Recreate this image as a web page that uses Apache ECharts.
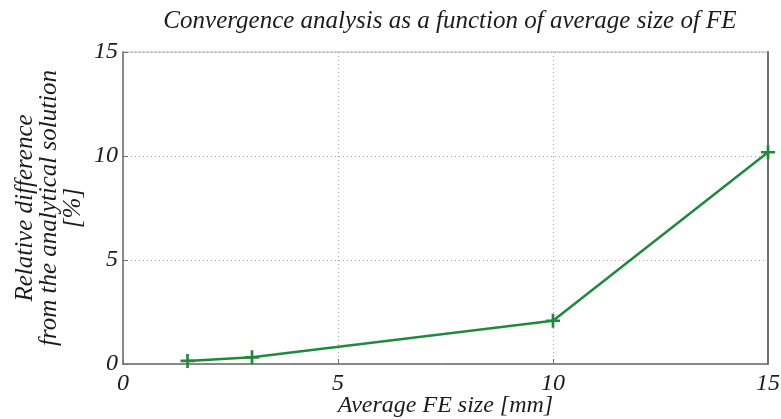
<!DOCTYPE html>
<html>
<head>
<meta charset="utf-8">
<script src="https://cdn.jsdelivr.net/npm/echarts@6/dist/echarts.min.js"></script>
<style>
  html, body { margin: 0; padding: 0; background: #fff; }
  #chart { width: 781px; height: 419px; }
</style>
</head>
<body>
<div id="chart"></div>
<script>
// Average finite element size [mm] and relative error [%]
const feSize = [1.5, 3, 10, 15];
const relDiff = [0.15, 0.32, 2.08, 10.18];
const xTicks = [0, 5, 10, 15];
const yTicks = [0, 5, 10, 15];

const serif = '"Liberation Serif", "DejaVu Serif", serif';
const green = '#1f8a3c';
const textCol = '#1c1c1c';
const axisCol = '#707070';

const tickLabel = { fontFamily: serif, fontStyle: 'italic', fontSize: 24, color: textCol };
const dotted = { show: true, lineStyle: { color: '#a8a8a8', type: [1, 3], width: 1 } };

const chart = echarts.init(document.getElementById('chart'));
chart.setOption({
  animation: false,
  backgroundColor: '#fff',
  title: {
    text: 'Convergence analysis as a function of average size of FE',
    left: 445, top: 4, textAlign: 'center',
    textStyle: { fontFamily: serif, fontStyle: 'italic', fontWeight: 'normal', fontSize: 25, color: textCol }
  },
  grid: {
    left: 123, right: 13, top: 52, bottom: 55,
    outerBoundsMode: 'none',
    show: true, borderColor: '#b4b4b4', borderWidth: 1, backgroundColor: 'transparent'
  },
  xAxis: {
    type: 'value',
    min: xTicks[0], max: xTicks[xTicks.length - 1], interval: 5,
    name: 'Average FE size [mm]',
    nameLocation: 'middle', nameGap: 30, nameMoveOverlap: false,
    nameTextStyle: { fontFamily: serif, fontStyle: 'italic', fontSize: 24, color: textCol },
    axisLine: { show: true, onZero: false, lineStyle: { color: axisCol, width: 1.5 } },
    axisTick: { show: true, inside: true, length: 5, lineStyle: { color: axisCol } },
    axisLabel: Object.assign({ margin: 8 }, tickLabel),
    splitLine: dotted
  },
  yAxis: [{
    type: 'value',
    min: yTicks[0], max: yTicks[yTicks.length - 1], interval: 5,
    name: 'Relative difference\nfrom the analytical solution\n[%]',
    nameLocation: 'middle', nameGap: 38, nameRotate: 90, nameMoveOverlap: false,
    nameTextStyle: { fontFamily: serif, fontStyle: 'italic', fontSize: 25, color: textCol, lineHeight: 24 },
    axisLine: { show: true, onZero: false, lineStyle: { color: axisCol, width: 1.5 } },
    axisTick: { show: true, inside: true, length: 5, lineStyle: { color: axisCol } },
    axisLabel: Object.assign({ margin: 5 }, tickLabel),
    splitLine: dotted
  }, {
    // right-hand frame edge
    type: 'value', position: 'right',
    min: yTicks[0], max: yTicks[yTicks.length - 1], interval: 5,
    axisLine: { show: true, onZero: false, lineStyle: { color: axisCol, width: 2 } },
    axisTick: { show: false }, axisLabel: { show: false }, splitLine: { show: false }
  }],
  series: [{
    type: 'line',
    data: feSize.map((x, i) => [x, relDiff[i]]),
    lineStyle: { color: green, width: 2.5 },
    symbol: 'path://M5.25,0H7.75V5.25H13V7.75H7.75V13H5.25V7.75H0V5.25H5.25Z',
    symbolSize: 14,
    itemStyle: { color: green },
    showAllSymbol: true
  }]
});
</script>
</body>
</html>
